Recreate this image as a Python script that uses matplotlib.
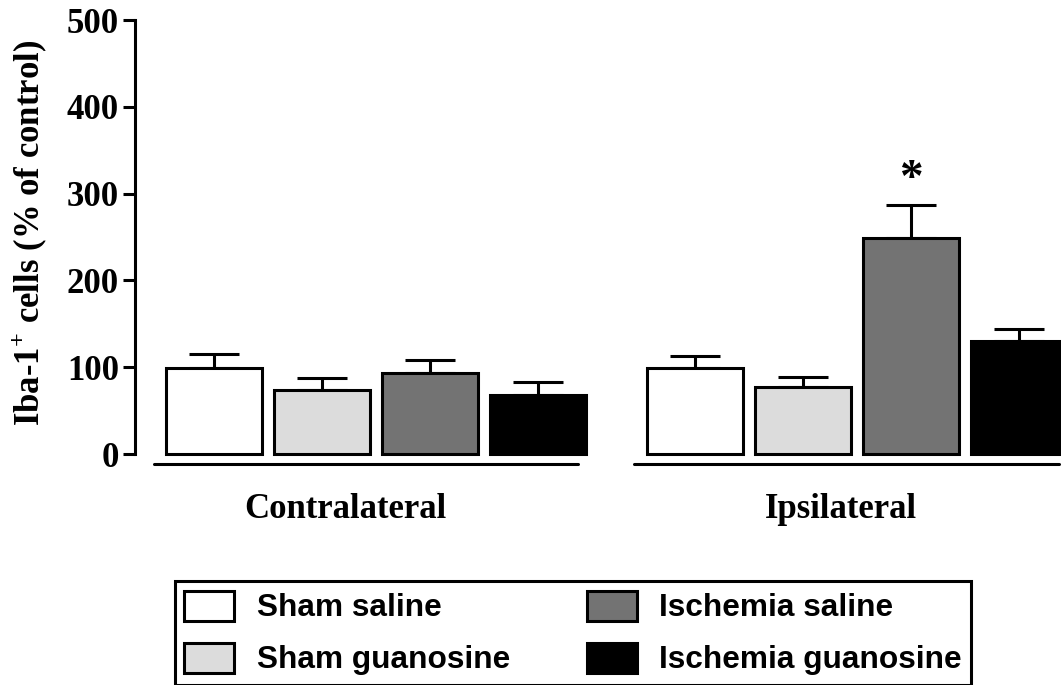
import numpy as np
import matplotlib
matplotlib.use("Agg")
import matplotlib.pyplot as plt

plt.rcParams['mathtext.fontset'] = 'custom'
plt.rcParams['mathtext.rm'] = 'Liberation Serif:bold'
plt.rcParams['mathtext.bf'] = 'Liberation Serif:bold'

# Data (% of control)
groups = ['Contralateral', 'Ipsilateral']
series = ['Sham saline', 'Sham guanosine', 'Ischemia saline', 'Ischemia guanosine']
colors = ['#ffffff', '#dcdcdc', '#737373', '#000000']
means = {
    'Sham saline':        [99, 99],
    'Sham guanosine':     [74, 77],
    'Ischemia saline':    [93, 249],
    'Ischemia guanosine': [68, 130],
}
sems = {
    'Sham saline':        [16, 14],
    'Sham guanosine':     [14, 12],
    'Ischemia saline':    [15, 38],
    'Ischemia guanosine': [15, 14],
}
yticks = [0, 100, 200, 300, 400, 500]
signif = [(1, 'Ischemia saline', '*')]

# Layout
group_start = [0.0, 4.45]
label_offset = [1.21, 1.35]
width = 0.89
serif = 'Liberation Serif'
lw = 2.2

fig = plt.figure(figsize=(10.61, 6.85), dpi=100)
ax = fig.add_axes([0.1272, 0.3194, 0.8728, 0.6576])

handles = []
for i, name in enumerate(series):
    xs = np.array(group_start) + i
    b = ax.bar(xs, means[name], width=width, color=colors[i], edgecolor='black',
               linewidth=lw, zorder=3, label=name)
    ax.errorbar(xs, means[name], yerr=[np.zeros(len(xs)), sems[name]], fmt='none',
                ecolor='black', elinewidth=lw, capsize=18, capthick=lw, zorder=2)
    handles.append(b)

# significance marks
for g, name, mark in signif:
    i = series.index(name)
    ax.text(group_start[g] + i, means[name][g] + sems[name][g] + 5, mark,
            ha='center', va='bottom', fontsize=34, fontweight='bold', family=serif)

# group underlines and labels
for g, label in enumerate(groups):
    x0 = group_start[g]
    ax.plot([x0 - 0.56, x0 + 3.37], [-11.5, -11.5], color='black', lw=lw,
            solid_capstyle='round', clip_on=False)
    ax.text(x0 + label_offset[g], -64, label, ha='center', va='center', fontsize=25,
            fontweight='bold', family=serif, clip_on=False)

ax.set_xlim(-0.736, 7.84)
ax.set_ylim(-14, 505)
ax.set_xticks([])
ax.set_yticks(yticks)
ax.set_yticklabels([str(t) for t in yticks], fontsize=25, fontweight='bold', family=serif)
for s in ['top', 'right', 'bottom']:
    ax.spines[s].set_visible(False)
ax.spines['left'].set_linewidth(lw)
ax.spines['left'].set_bounds(0, 500)
ax.tick_params(axis='y', length=8.6, width=lw, pad=3)

fig.text(30 / 1061, 1 - 233 / 685, r'Iba-1$^{+}$ cells (% of control)', rotation=90,
         ha='center', va='center', fontsize=25, fontweight='bold', family=serif)

leg = fig.legend(handles=handles, labels=series, ncol=2, loc='center',
                 bbox_to_anchor=(573 / 1061, 1 - 633 / 685),
                 prop={'family': 'Liberation Sans', 'weight': 'bold', 'size': 22.8},
                 frameon=True, fancybox=False, edgecolor='black', framealpha=1,
                 handlelength=1.58, handleheight=1.1, handletextpad=0.7,
                 columnspacing=2.43, labelspacing=0.6, borderpad=0.3, borderaxespad=0)
leg.get_frame().set_linewidth(2.2)

fig.savefig('out.png', dpi=100)
